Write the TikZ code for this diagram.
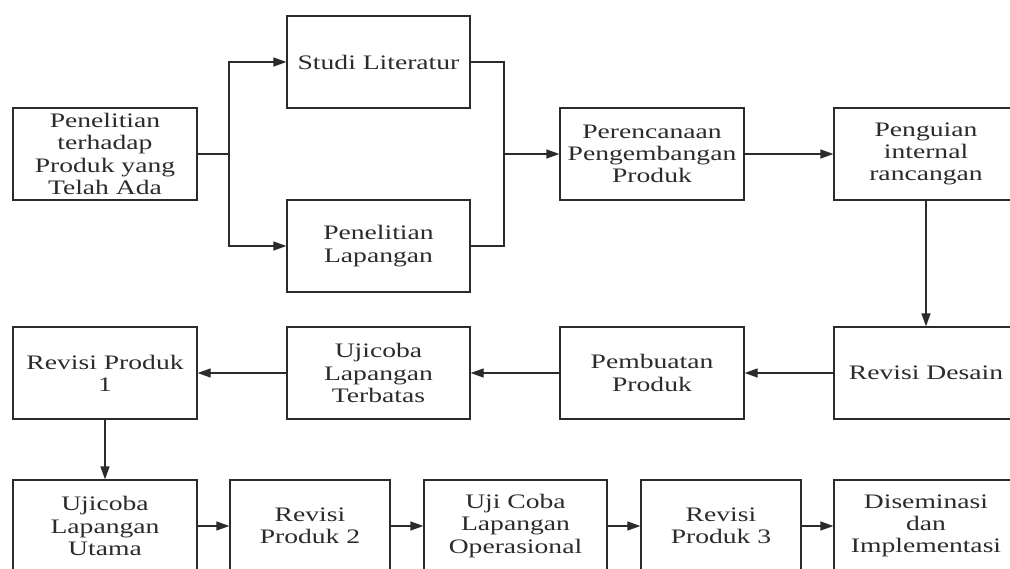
\documentclass[tikz,border=0pt]{standalone}
\usepackage{fontspec}
\setmainfont{Liberation Serif}[FakeStretch=1.34]
\usetikzlibrary{arrows.meta}
\definecolor{ink}{HTML}{2B2B2B}
\begin{document}
\begin{tikzpicture}[x=1pt,y=-1pt,
  box/.style={draw=ink,line width=1.3pt,rectangle,inner sep=0pt,
    minimum height=92pt,text=ink,align=center,
    font=\fontsize{20.6}{22.3}\selectfont},
  wide/.style={box,minimum width=184pt},
  narrow/.style={box,minimum width=160pt},
  link/.style={draw=ink,line width=1.3pt},
  arr/.style={link,-{Triangle[length=13pt,width=9pt]}}]
\clip (0,0) rectangle (1010,568);
\useasboundingbox (0,0) rectangle (1010,568);
\fill[white] (0,0) rectangle (1010,568);

% top row
\node[wide] (ada)  at (105,154)   {Penelitian\\terhadap\\Produk yang\\Telah Ada};
\node[wide,minimum width=183pt] (lit)  at (378.5,62)  {Studi Literatur};
\node[wide,minimum width=183pt] (lap)  at (378.5,246) {Penelitian\\Lapangan};
\node[wide] (ren)  at (652,154)   {Perencanaan\\Pengembangan\\Produk};
\node[wide] (uji)  at (926,154)   {Penguian\\internal\\rancangan};

% middle row
\node[wide] (rp1)  at (105,373)   {Revisi Produk\\1};
\node[wide,minimum width=183pt] (ter)  at (378.5,373) {Ujicoba\\Lapangan\\Terbatas};
\node[wide] (buat) at (652,373)   {Pembuatan\\Produk};
\node[wide] (rd)   at (926,373)   {Revisi Desain};

% bottom row
\node[wide] (utm)  at (105,526)   {Ujicoba\\Lapangan\\Utama};
\node[narrow] (rp2) at (310,526)  {Revisi\\Produk 2};
\node[wide,minimum width=183pt] (ops)  at (515.5,526) {Uji Coba\\Lapangan\\Operasional};
\node[narrow] (rp3) at (721,526)  {Revisi\\Produk 3};
\node[wide] (dis)  at (926,526)   {Diseminasi\\dan\\Implementasi};

% branch and merge points
\coordinate (split) at (229,154);
\coordinate (merge) at (504,154);

\draw[link] (ada.east) -- (split);
\draw[arr] (split) |- (lit.west);
\draw[arr] (split) |- (lap.west);
\draw[link] (lit.east) -| (merge);
\draw[link] (lap.east) -| (merge);
\draw[arr] (merge) -- (ren.west);
\draw[arr] (ren.east) -- (uji.west);
\draw[arr] (uji.south) -- (rd.north);
\draw[arr] (rd.west) -- (buat.east);
\draw[arr] (buat.west) -- (ter.east);
\draw[arr] (ter.west) -- (rp1.east);
\draw[arr] (rp1.south) -- (utm.north);
\draw[arr] (utm.east) -- (rp2.west);
\draw[arr] (rp2.east) -- (ops.west);
\draw[arr] (ops.east) -- (rp3.west);
\draw[arr] (rp3.east) -- (dis.west);
\end{tikzpicture}
\end{document}
